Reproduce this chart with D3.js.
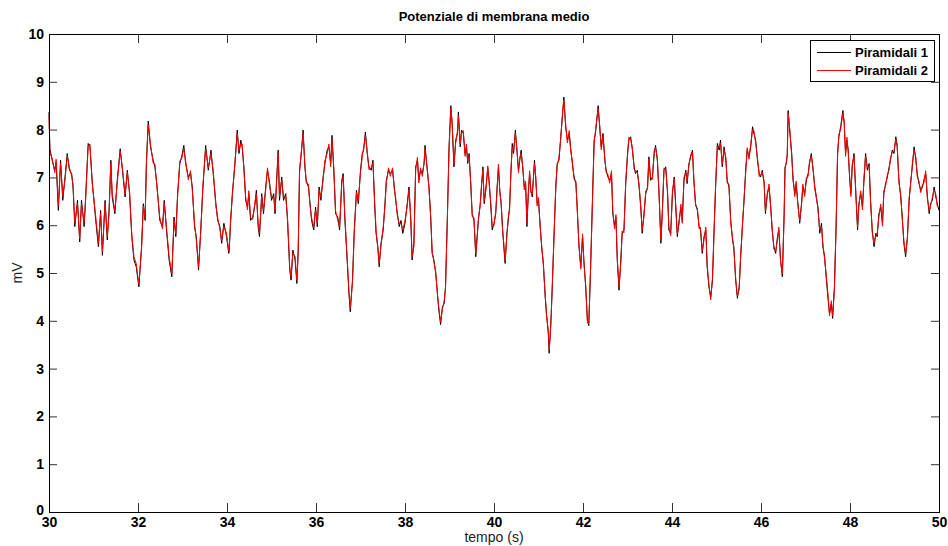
<!DOCTYPE html>
<html>
<head>
<meta charset="utf-8">
<script src="https://cdn.jsdelivr.net/npm/d3@7"></script>
<style>
  html, body { margin: 0; padding: 0; background: #fff; }
  svg { display: block; font-family: "Liberation Sans", Arial, Helvetica, sans-serif; }
</style>
</head>
<body>
<svg id="chart" width="948" height="546"></svg>
<script>
// Mean membrane potential of two pyramidal populations, 30–50 s
const titolo = "Potenziale di membrana medio";
const xLabel = "tempo (s)";
const yLabel = "mV";
const serieNomi = ["Piramidali 1", "Piramidali 2"];
const serieColori = ["#000000", "#ff0000"];
const xTicks = [30, 32, 34, 36, 38, 40, 42, 44, 46, 48, 50];
const yTicks = [0, 1, 2, 3, 4, 5, 6, 7, 8, 9, 10];

// sample times (s)
const tempo = [
  30.00,30.02,30.07,30.13,30.16,30.21,30.26,30.31,30.36,30.41,
  30.46,30.51,30.54,30.58,30.64,30.69,30.73,30.79,30.82,30.88,
  30.92,30.97,31.05,31.11,31.16,31.20,31.26,31.31,31.35,31.39,
  31.42,31.48,31.54,31.60,31.65,31.71,31.76,31.81,31.86,31.91,
  31.96,32.02,32.08,32.12,32.16,32.19,32.23,32.28,32.34,32.38,
  32.43,32.49,32.55,32.59,32.64,32.70,32.76,32.81,32.85,32.89,
  32.94,32.98,33.03,33.07,33.13,33.18,33.22,33.27,33.31,33.36,
  33.41,33.46,33.52,33.58,33.64,33.69,33.75,33.79,33.84,33.88,
  33.93,33.99,34.04,
  34.05,34.08,34.12,34.18,34.23,34.27,34.31,34.34,34.38,34.42,
  34.46,34.49,34.53,34.58,34.63,34.66,34.70,34.73,34.78,34.82,
  34.87,34.91,34.96,35.00,35.05,35.08,35.11,35.15,35.18,35.23,
  35.27,35.32,35.36,35.41,35.44,35.48,35.53,35.57,35.60,35.63,
  35.67,35.71,35.75,35.78,35.83,35.86,35.90,35.95,35.99,36.03,
  36.07,36.11,36.16,36.20,36.25,36.29,36.33,36.36,36.40,36.44,
  36.49,36.53,36.58,36.61,36.65,36.70,36.74,36.77,36.82,36.86,
  36.91,36.95,37.00,37.04,37.07,37.11,37.15,37.19,37.24,37.28,
  37.32,37.35,37.39,37.42,37.46,37.51,37.55,37.58,37.63,37.67,
  37.72,37.76,37.79,37.83,37.87,37.91,37.95,38.00,38.05,
  38.09,38.13,38.16,38.20,38.24,38.28,38.31,38.35,38.39,38.43,
  38.45,38.50,38.54,38.58,38.61,38.65,38.69,38.73,38.76,38.80,
  38.84,38.88,38.91,38.95,38.99,39.03,39.06,39.10,39.14,39.18,
  39.20,39.24,39.27,39.31,39.35,39.38,39.41,39.44,39.48,39.51,
  39.55,39.59,39.62,39.65,39.69,39.72,39.75,39.78,39.82,39.86,
  39.89,39.93,39.96,40.00,40.04,40.07,40.10,40.13,40.16,40.19,
  40.22,40.25,40.29,40.32,40.35,40.38,40.41,40.44,40.48,40.52,
  40.55,40.58,40.61,40.65,40.68,40.71,40.74,40.77,40.80,40.83,
  40.86,40.91,40.94,40.97,41.00,41.03,41.07,41.11,41.15,41.18,
  41.22,41.24,41.28,41.31,41.35,41.39,41.42,41.46,41.50,41.54,
  41.57,41.61,41.65,41.69,41.72,41.76,41.80,41.84,41.87,41.91,
  41.95,41.99,42.02,42.06,42.10,42.13,
  42.17,42.21,42.25,42.28,42.34,42.38,42.41,42.45,42.49,42.52,
  42.56,42.60,42.64,42.67,42.71,42.74,42.77,42.81,42.85,42.88,
  42.92,42.96,43.00,43.03,43.07,43.11,43.15,43.18,43.22,43.26,
  43.30,43.33,43.37,43.41,43.45,43.48,43.52,43.56,43.60,43.63,
  43.67,43.71,43.75,43.78,43.82,43.86,43.90,43.93,43.97,44.01,
  44.05,44.08,44.12,44.16,44.20,44.23,44.27,44.31,44.34,44.38,
  44.42,44.46,44.49,44.53,44.57,44.61,44.64,44.68,44.72,44.76,
  44.79,44.83,44.87,44.91,44.94,44.98,45.02,45.06,45.09,45.13,
  45.17,45.21,45.24,45.28,45.32,45.36,45.39,45.43,45.47,45.51,
  45.54,45.58,45.62,45.66,45.69,45.73,45.77,45.81,45.84,45.88,
  45.92,45.96,45.99,46.03,46.07,46.10,46.14,
  46.18,46.22,46.25,46.29,46.33,46.37,46.40,46.44,46.48,46.52,
  46.54,46.57,46.59,46.61,46.65,46.69,46.72,46.76,46.79,46.83,
  46.87,46.91,46.94,46.98,47.02,47.06,47.09,47.13,47.17,47.21,
  47.24,47.28,47.32,47.36,47.39,47.43,47.47,47.51,47.54,47.58,
  47.61,47.65,47.69,47.72,47.75,47.79,47.84,47.87,47.90,47.93,
  47.96,47.99,48.02,48.05,48.09,48.13,48.17,48.20,48.24,48.28,
  48.31,48.35,48.39,48.43,48.46,48.50,48.54,48.58,48.61,48.65,
  48.69,48.73,48.76,48.80,48.84,48.88,48.91,48.95,48.99,49.03,
  49.06,49.10,49.14,49.18,49.21,49.25,49.29,49.33,49.36,49.40,
  49.44,49.48,49.51,49.55,49.59,49.63,49.66,49.70,49.74,49.78,
  49.81,49.85,49.89,49.93,49.96,50.00
];

// Piramidali 1 (mV)
const piramidali1 = [
  8.37,7.60,7.36,7.15,7.32,6.31,7.36,6.52,7.01,7.50,
  7.15,7.08,6.80,5.97,6.52,5.65,6.52,5.97,6.52,7.71,
  7.64,6.94,6.10,5.55,6.31,5.37,6.52,5.69,6.31,7.36,
  6.59,6.24,7.01,7.60,7.15,6.59,7.15,6.66,5.76,5.27,
  5.13,4.71,5.55,6.45,6.10,7.36,8.18,7.64,7.36,7.22,
  6.80,6.10,5.97,6.52,5.90,5.27,4.92,6.17,5.76,6.66,
  7.29,7.43,7.67,7.29,7.01,7.08,6.80,5.97,5.76,5.06,
  5.90,6.80,7.67,7.15,7.57,7.08,6.45,6.10,5.97,5.62,
  6.04,5.76,5.41,
  5.48,6.04,6.66,7.29,7.99,7.50,7.78,7.64,7.22,6.52,
  6.38,6.66,6.10,6.17,6.45,6.73,5.97,5.76,6.66,6.24,
  6.80,7.15,6.87,6.52,6.66,6.24,6.87,7.57,6.52,7.01,
  6.52,6.66,6.10,5.06,4.85,5.48,5.27,4.78,5.48,7.15,
  7.50,7.99,7.22,6.94,6.80,6.52,6.10,5.90,6.38,5.97,
  6.80,6.52,7.01,7.29,7.57,7.64,7.29,7.88,7.15,6.24,
  6.17,5.90,6.94,7.08,6.10,5.27,4.57,4.19,4.85,5.90,
  6.73,6.45,7.15,7.50,7.57,7.95,7.50,7.22,7.15,7.36,
  6.38,5.83,5.55,5.13,5.62,5.90,6.45,6.94,7.15,7.08,
  7.15,6.80,6.52,6.24,5.97,6.10,5.83,6.04,6.45,
  6.80,6.10,5.27,5.62,7.22,7.36,6.94,7.15,7.08,7.29,
  7.67,7.15,6.80,6.10,5.41,5.27,4.99,4.57,4.22,3.92,
  4.29,4.36,4.71,6.10,7.64,8.50,8.10,7.22,7.78,7.92,
  8.37,7.64,7.99,7.92,7.50,7.64,7.29,7.50,6.80,6.24,
  6.10,5.34,5.76,6.10,6.45,6.80,7.22,6.45,6.80,7.19,
  6.94,6.38,5.90,6.04,6.24,6.80,7.22,6.73,6.45,5.97,
  5.55,5.20,5.83,6.10,6.38,7.08,7.71,7.50,7.99,7.50,
  7.15,7.36,7.57,7.15,6.80,6.87,5.97,6.66,7.08,6.73,
  6.59,7.36,6.94,6.45,6.52,6.10,5.55,5.20,4.50,4.15,
  3.74,3.32,4.01,4.71,5.83,6.80,7.29,7.36,7.85,8.30,
  8.68,8.06,7.78,7.92,7.64,7.29,7.01,6.87,6.38,5.55,
  5.13,5.76,5.27,4.71,4.01,3.90,
  5.06,6.45,7.78,7.92,8.50,7.99,7.64,7.92,7.36,7.15,
  7.01,6.94,7.08,6.24,5.97,6.17,5.27,4.64,5.27,5.83,
  5.90,6.87,7.50,7.78,7.85,7.57,7.22,7.08,7.15,6.80,
  6.38,5.83,6.24,6.66,6.80,7.43,6.94,7.01,7.50,7.67,
  7.36,6.66,5.62,6.24,7.15,7.22,6.66,5.90,5.83,6.66,
  7.01,6.45,5.76,6.10,6.38,6.10,6.94,7.15,6.87,7.29,
  7.43,7.57,6.94,6.45,6.31,5.97,5.90,5.41,5.76,5.90,
  5.13,4.71,4.50,4.85,5.76,6.80,7.71,7.57,7.78,7.22,
  7.64,7.36,6.94,6.80,6.10,5.69,5.55,4.85,4.47,4.71,
  5.27,5.97,6.52,7.22,7.57,7.43,7.64,8.06,7.92,7.78,
  7.36,7.08,7.01,7.15,6.87,6.24,6.66,
  6.80,6.38,5.90,5.55,5.41,5.76,5.90,5.27,4.92,6.24,
  7.22,7.29,7.50,8.40,7.92,7.50,6.94,6.66,6.87,6.45,
  6.04,6.45,6.80,6.66,6.94,7.08,7.29,7.50,7.15,6.80,
  6.59,6.38,5.83,6.04,5.55,5.34,4.85,4.43,4.15,4.36,
  4.05,4.71,6.04,7.50,7.85,8.06,8.40,8.13,7.50,7.78,
  7.57,7.01,6.66,7.22,7.50,6.66,5.90,6.45,6.66,6.38,
  6.87,7.50,7.15,7.29,6.52,5.90,5.55,5.83,5.76,6.24,
  6.38,6.04,6.66,6.87,7.01,7.22,7.36,7.57,7.50,7.85,
  7.64,6.94,6.59,6.10,5.62,5.34,5.76,6.52,6.87,7.22,
  7.64,7.36,7.08,6.87,6.73,6.80,6.94,7.08,6.59,6.24,
  6.45,6.52,6.80,6.59,6.45,6.31
];

// Piramidali 2 (mV)
const piramidali2 = [
  8.30,7.52,7.40,7.10,7.38,6.40,7.30,6.60,6.95,7.45,
  7.20,7.02,6.86,6.05,6.46,5.72,6.45,6.05,6.48,7.65,
  7.70,6.88,6.18,5.62,6.25,5.45,6.46,5.76,6.25,7.30,
  6.66,6.30,6.95,7.55,7.20,6.65,7.10,6.72,5.82,5.33,
  5.20,4.76,5.50,6.40,6.16,7.30,8.10,7.70,7.30,7.28,
  6.75,6.16,5.92,6.46,5.96,5.33,4.98,6.10,5.82,6.60,
  7.35,7.38,7.60,7.35,6.95,7.14,6.74,6.04,5.70,5.12,
  5.85,6.86,7.60,7.20,7.50,7.14,6.40,6.16,5.92,5.68,
  5.98,5.82,5.46,
  5.52,6.10,6.60,7.35,7.92,7.56,7.70,7.70,7.16,6.58,
  6.32,6.72,6.16,6.12,6.50,6.66,6.04,5.84,6.60,6.30,
  6.74,7.20,6.80,6.58,6.60,6.30,6.80,7.50,6.60,6.95,
  6.58,6.60,6.16,5.12,4.92,5.42,5.34,4.85,5.42,7.10,
  7.55,7.92,7.28,6.88,6.86,6.46,6.16,5.96,6.32,6.04,
  6.74,6.58,6.95,7.35,7.50,7.70,7.22,7.80,7.20,6.30,
  6.10,5.96,6.88,7.02,6.16,5.33,4.63,4.26,4.80,5.84,
  6.68,6.50,7.10,7.44,7.62,7.88,7.56,7.16,7.20,7.30,
  6.44,5.90,5.50,5.20,5.56,5.96,6.40,6.88,7.20,7.02,
  7.20,6.74,6.58,6.18,6.04,6.04,5.90,6.10,6.40,
  6.74,6.16,5.34,5.56,7.16,7.42,6.88,7.20,7.02,7.34,
  7.60,7.20,6.74,6.16,5.46,5.22,5.04,4.52,4.28,3.98,
  4.24,4.42,4.66,6.04,7.58,8.44,8.16,7.28,7.72,7.98,
  8.30,7.70,7.92,7.98,7.44,7.70,7.34,7.44,6.86,6.18,
  6.16,5.40,5.70,6.16,6.40,6.86,7.16,6.50,6.74,7.24,
  6.88,6.44,5.96,6.00,6.30,6.74,7.28,6.68,6.50,5.92,
  5.62,5.26,5.78,6.16,6.32,7.14,7.64,7.56,7.92,7.56,
  7.10,7.42,7.50,7.20,6.74,6.92,6.04,6.60,7.14,6.68,
  6.64,7.30,7.00,6.40,6.58,6.04,5.60,5.14,4.56,4.10,
  3.80,3.38,3.96,4.76,5.78,6.86,7.24,7.42,7.80,8.36,
  8.62,8.12,7.72,7.98,7.58,7.34,6.96,6.92,6.32,5.60,
  5.08,5.82,5.22,4.76,3.96,3.94,
  5.12,6.40,7.72,7.98,8.44,8.04,7.58,7.86,7.42,7.10,
  7.06,6.88,7.14,6.30,5.92,6.22,5.32,4.70,5.22,5.88,
  5.84,6.92,7.44,7.84,7.80,7.62,7.16,7.14,7.10,6.86,
  6.32,5.90,6.18,6.72,6.74,7.38,7.00,6.96,7.56,7.62,
  7.42,6.60,5.68,6.18,7.20,7.16,6.72,5.96,5.78,6.72,
  6.96,6.50,5.82,6.04,6.44,6.04,7.00,7.10,6.92,7.24,
  7.48,7.52,7.00,6.40,6.36,5.92,5.96,5.46,5.70,5.96,
  5.18,4.76,4.44,4.90,5.70,6.86,7.66,7.62,7.72,7.28,
  7.58,7.42,6.88,6.86,6.04,5.74,5.50,4.90,4.52,4.66,
  5.32,5.92,6.58,7.16,7.62,7.38,7.70,8.00,7.98,7.72,
  7.42,7.02,7.06,7.10,6.92,6.30,6.60,
  6.86,6.32,5.96,5.50,5.46,5.70,5.96,5.22,4.98,6.18,
  7.16,7.34,7.44,8.34,7.98,7.44,7.00,6.60,6.92,6.40,
  6.10,6.40,6.86,6.60,7.00,7.02,7.34,7.44,7.20,6.74,
  6.64,6.32,5.90,5.98,5.62,5.28,4.92,4.50,4.10,4.42,
  4.10,4.66,6.10,7.44,7.90,8.00,8.34,8.18,7.44,7.84,
  7.52,7.06,6.60,7.28,7.44,6.72,5.96,6.40,6.72,6.32,
  6.92,7.44,7.20,7.24,6.58,5.84,5.62,5.78,5.82,6.18,
  6.44,5.98,6.72,6.82,7.06,7.16,7.42,7.52,7.56,7.80,
  7.70,6.88,6.64,6.04,5.68,5.40,5.70,6.58,6.82,7.28,
  7.58,7.42,7.02,6.92,6.68,6.86,6.88,7.14,6.54,6.30,
  6.40,6.58,6.74,6.64,6.40,6.36
];

const W = 948, H = 546;
const plot = { left: 49, right: 939, top: 34, bottom: 512 };
const svg = d3.select("#chart");

const x = d3.scaleLinear().domain([30, 50]).range([plot.left, plot.right]);
const y = d3.scaleLinear().domain([0, 10]).range([plot.bottom, plot.top]);

const n = Math.min(tempo.length, piramidali1.length, piramidali2.length);
const serie = [piramidali1, piramidali2].map((vals, k) => ({
  nome: serieNomi[k],
  colore: serieColori[k],
  punti: d3.range(n).map(i => [tempo[i], vals[i]])
}));

svg.append("rect").attr("width", W).attr("height", H).attr("fill", "#fff");

// traces
const line = d3.line().x(d => x(d[0])).y(d => y(d[1]));
svg.append("g").selectAll("path").data(serie).join("path")
  .attr("d", d => line(d.punti))
  .attr("fill", "none")
  .attr("stroke", d => d.colore)
  .attr("stroke-width", 1)
  .attr("stroke-linejoin", "round");

// axes: ticks point inward on all four sides
const tickLen = 9;
const styleAxis = g => {
  g.selectAll(".domain").remove();
  g.selectAll(".tick line").attr("stroke", "#333");
  g.selectAll(".tick text")
    .attr("fill", "#000")
    .attr("font-size", 14)
    .attr("font-weight", "bold")
    .attr("font-family", "'Liberation Sans', Arial, sans-serif");
};

svg.append("g").attr("transform", `translate(0,${plot.bottom})`)
  .call(d3.axisBottom(x).tickValues(xTicks).tickFormat(d3.format("d"))
    .tickSizeInner(-tickLen).tickSizeOuter(0).tickPadding(5))
  .call(styleAxis);
svg.append("g").attr("transform", `translate(0,${plot.top})`)
  .call(d3.axisTop(x).tickValues(xTicks).tickFormat("")
    .tickSizeInner(-tickLen).tickSizeOuter(0))
  .call(styleAxis);
const yAxisG = svg.append("g").attr("transform", `translate(${plot.left},0)`)
  .call(d3.axisLeft(y).tickValues(yTicks).tickFormat(d3.format("d"))
    .tickSizeInner(-tickLen + 1).tickSizeOuter(0).tickPadding(5))
  .call(styleAxis);
// the "0" label sits just above the "30" label in the corner
yAxisG.selectAll(".tick").filter(d => d === 0).select("text").attr("y", -2);
svg.append("g").attr("transform", `translate(${plot.right},0)`)
  .call(d3.axisRight(y).tickValues(yTicks).tickFormat("")
    .tickSizeInner(-tickLen + 1).tickSizeOuter(0))
  .call(styleAxis);

// plot box
svg.append("rect")
  .attr("x", plot.left + 0.5).attr("y", plot.top + 0.5)
  .attr("width", plot.right - plot.left).attr("height", plot.bottom - plot.top)
  .attr("fill", "none").attr("stroke", "#000").attr("stroke-width", 1);

// title and axis labels
svg.append("text")
  .attr("x", (plot.left + plot.right) / 2).attr("y", 21)
  .attr("text-anchor", "middle")
  .attr("font-size", 13).attr("font-weight", "bold")
  .text(titolo);
svg.append("text")
  .attr("x", (plot.left + plot.right) / 2).attr("y", 542)
  .attr("text-anchor", "middle")
  .attr("font-size", 14).attr("fill", "#222")
  .text(xLabel);
svg.append("text")
  .attr("transform", `translate(22,${(plot.top + plot.bottom) / 2}) rotate(-90)`)
  .attr("text-anchor", "middle")
  .attr("font-size", 14).attr("fill", "#222")
  .text(yLabel);

// legend
const leg = svg.append("g").attr("transform", "translate(810,40)");
leg.append("rect")
  .attr("x", 0.5).attr("y", 0.5).attr("width", 124).attr("height", 41)
  .attr("fill", "#fff").attr("stroke", "#000").attr("stroke-width", 1);
const voci = leg.selectAll("g.voce").data(serie).join("g")
  .attr("class", "voce")
  .attr("transform", (d, i) => `translate(0,${12.5 + i * 18})`);
voci.append("line")
  .attr("x1", 7).attr("x2", 41).attr("y1", 0).attr("y2", 0)
  .attr("stroke", d => d.colore).attr("stroke-width", 1);
voci.append("text")
  .attr("x", 45).attr("y", 4.5)
  .attr("font-size", 13).attr("font-weight", "bold")
  .text(d => d.nome);
</script>
</body>
</html>
